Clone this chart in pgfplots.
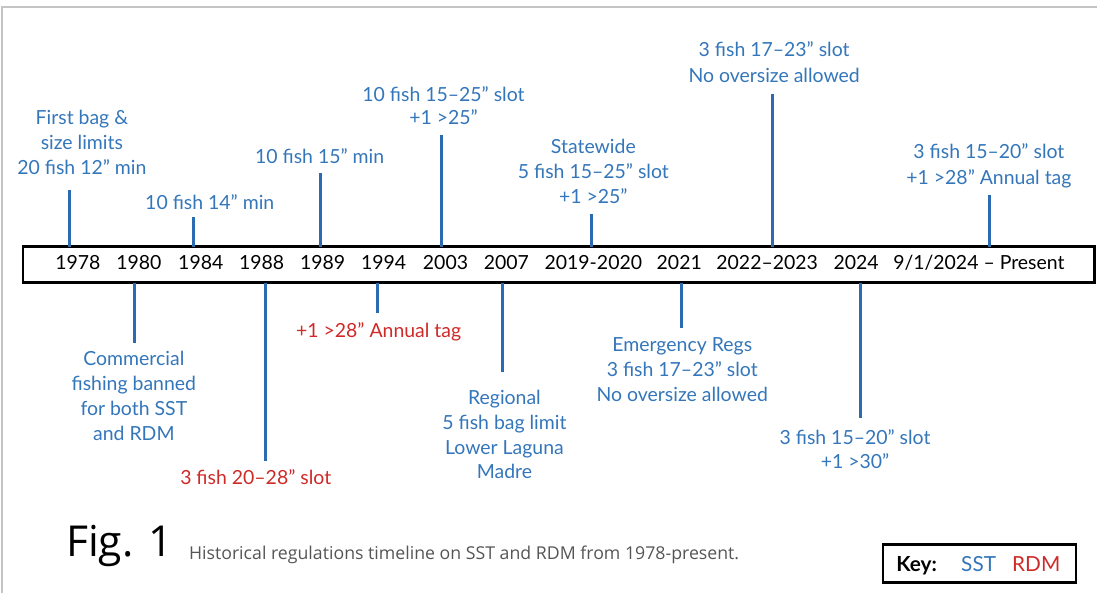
\documentclass[border=0pt]{standalone}
\usepackage{pgfplots}
\pgfplotsset{compat=1.18}
\usepackage{fontspec}
\setmainfont{Lato}
\newfontfamily\capfont{Open Sans}
\definecolor{sstblue}{RGB}{52,118,186}
\definecolor{stemblue}{RGB}{44,106,178}
\definecolor{rdmred}{RGB}{206,42,40}
\definecolor{framegray}{RGB}{196,196,198}
\definecolor{capgray}{RGB}{85,85,85}
\newcommand{\lab}{\fontsize{14.6}{17}\selectfont}
\tikzset{yr/.style={anchor=base, inner sep=0pt, font=\lab, text=black},
  sst/.style={anchor=base, inner sep=0pt, font=\lab, text=sstblue},
  rdm/.style={anchor=base, inner sep=0pt, font=\lab, text=rdmred}}
\begin{document}
\begin{tikzpicture}
\begin{axis}[
  scale only axis, width=823.5pt, height=445.5pt,
  xmin=0, xmax=1098, ymin=0, ymax=594, y dir=reverse,
  axis lines=none, clip=false,
]
% page extent
\path (axis cs:0,0) rectangle (axis cs:1098,594);
% outer gray frame (top and left)
\addplot[framegray, line width=1.8pt] coordinates {(2,594) (2,7) (1098,7)};
% timeline box
\addplot[black, line width=2.1pt, line join=miter] coordinates {(23,247) (1096,247) (1096,283) (23,283) (23,247) (1096,247)};
% stems above
\addplot[stemblue, line width=2.2pt] coordinates {(70,247) (70,190)};
\addplot[stemblue, line width=2.2pt] coordinates {(194,247) (194,217)};
\addplot[stemblue, line width=2.2pt] coordinates {(321,247) (321,173)};
\addplot[stemblue, line width=2.2pt] coordinates {(442,247) (442,135)};
\addplot[stemblue, line width=2.2pt] coordinates {(592,247) (592,214)};
\addplot[stemblue, line width=2.2pt] coordinates {(773,247) (773,94)};
\addplot[stemblue, line width=2.2pt] coordinates {(991,247) (991,195)};
% stems below
\addplot[stemblue, line width=2.2pt] coordinates {(135,283) (135,343)};
\addplot[stemblue, line width=2.2pt] coordinates {(266,283) (266,461)};
\addplot[stemblue, line width=2.2pt] coordinates {(378,283) (378,313)};
\addplot[stemblue, line width=2.2pt] coordinates {(503,283) (503,372)};
\addplot[stemblue, line width=2.2pt] coordinates {(682,283) (682,328)};
\addplot[stemblue, line width=2.2pt] coordinates {(861,283) (861,418)};
% year labels
\node[yr] at (axis cs:78,270) {1978};
\node[yr] at (axis cs:139,270) {1980};
\node[yr] at (axis cs:201,270) {1984};
\node[yr] at (axis cs:262,270) {1988};
\node[yr] at (axis cs:323,270) {1989};
\node[yr] at (axis cs:384,270) {1994};
\node[yr] at (axis cs:446,270) {2003};
\node[yr] at (axis cs:507,270) {2007};
\node[yr] at (axis cs:594,270) {2019-2020};
\node[yr] at (axis cs:680,270) {2021};
\node[yr] at (axis cs:768,270) {2022–2023};
\node[yr] at (axis cs:857,270) {2024};
\node[yr] at (axis cs:980,270) {9/1/2024 – Present};
% SST labels above
\node[sst] at (axis cs:82,124.5) {First bag \&};
\node[sst] at (axis cs:82,149.5) {size limits};
\node[sst] at (axis cs:82,174.5) {20 fish 12” min};
\node[sst] at (axis cs:210,209.5) {10 fish 14” min};
\node[sst] at (axis cs:320,163.5) {10 fish 15” min};
\node[sst] at (axis cs:444,101.5) {10 fish 15–25” slot};
\node[sst] at (axis cs:444,124.5) {+1 >25”};
\node[sst] at (axis cs:594,153.5) {Statewide};
\node[sst] at (axis cs:594,178.5) {5 fish 15–25” slot};
\node[sst] at (axis cs:594,203.5) {+1 >25”};
\node[sst] at (axis cs:775,56.5) {3 fish 17–23” slot};
\node[sst] at (axis cs:775,82.5) {No oversize allowed};
\node[sst] at (axis cs:990,158.5) {3 fish 15–20” slot};
\node[sst] at (axis cs:990,184.5) {+1 >28” Annual tag};
% SST labels below
\node[sst] at (axis cs:134,366) {Commercial};
\node[sst] at (axis cs:134,391) {fishing banned};
\node[sst] at (axis cs:134,416) {for both SST};
\node[sst] at (axis cs:134,441) {and RDM};
\node[sst] at (axis cs:505,404.5) {Regional};
\node[sst] at (axis cs:505,429.5) {5 fish bag limit};
\node[sst] at (axis cs:505,454.5) {Lower Laguna};
\node[sst] at (axis cs:505,479.5) {Madre};
\node[sst] at (axis cs:683,351.5) {Emergency Regs};
\node[sst] at (axis cs:683,376.5) {3 fish 17–23” slot};
\node[sst] at (axis cs:683,401.5) {No oversize allowed};
\node[sst] at (axis cs:856,444.5) {3 fish 15–20” slot};
\node[sst] at (axis cs:856,469.5) {+1 >30”};
% RDM labels
\node[rdm] at (axis cs:256,485.5) {3 fish 20–28” slot};
\node[rdm] at (axis cs:379,337.5) {+1 >28” Annual tag};
% figure caption
\node[anchor=base west, inner sep=0pt, font=\capfont\fontsize{32}{36}\selectfont, text=black] at (axis cs:66,557) {Fig. 1};
\node[anchor=base west, inner sep=0pt, font=\capfont\fontsize{13.3}{15}\selectfont, text=capgray] at (axis cs:189,560) {Historical regulations timeline on SST and RDM from 1978-present.};
% key
\addplot[black, line width=1.9pt, line join=miter] coordinates {(884,545) (1077,545) (1077,583) (884,583) (884,545) (1077,545)};
\node[anchor=base west, inner sep=0pt, font=\fontsize{15.6}{17}\selectfont\bfseries, text=black] at (axis cs:897,572) {Key:};
\node[anchor=base west, inner sep=0pt, font=\fontsize{15.6}{17}\selectfont, text=sstblue] at (axis cs:962,572) {SST};
\node[anchor=base west, inner sep=0pt, font=\fontsize{15.6}{17}\selectfont, text=rdmred] at (axis cs:1013,572) {RDM};
\end{axis}
\end{tikzpicture}
\end{document}
